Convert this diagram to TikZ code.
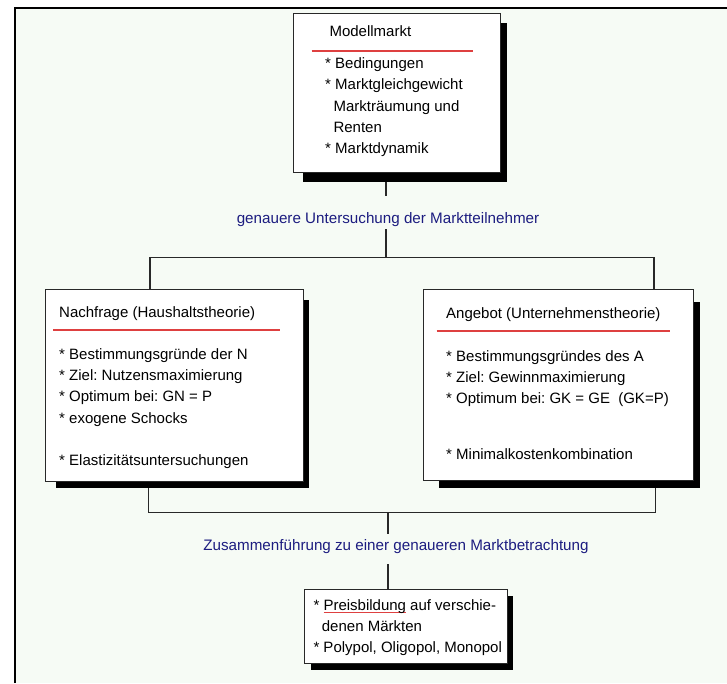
\documentclass[tikz,border=0pt]{standalone}
\usepackage{fontspec}
\setmainfont{Liberation Sans}
\usetikzlibrary{calc}
\frenchspacing
\definecolor{bggreen}{RGB}{246,251,245}
\definecolor{redline}{RGB}{222,64,64}
\definecolor{labblue}{RGB}{28,28,128}
\definecolor{linegray}{RGB}{40,40,40}
\newlength\ulwd
\newcommand\redunder[1]{\settowidth\ulwd{#1}\makebox[0pt][l]{\color{redline}\rule[-3pt]{\ulwd}{1.1pt}}#1}
\begin{document}
\begin{tikzpicture}[x=1pt,y=-1pt,
  box/.style={draw=linegray, line width=1pt, fill=white, inner sep=0pt, outer sep=0pt, anchor=north west},
  txt/.style={inner sep=0pt, font=\fontsize{15}{21.3}\selectfont\frenchspacing, align=left},
  lab/.style={inner sep=0pt, text=labblue, font=\fontsize{15.2}{18}\selectfont, anchor=base},
  conn/.style={draw=linegray, line width=1.3pt},
  shadowfill/.style={fill=black},
  redrule/.style={draw=redline, line width=1.2pt}]
\useasboundingbox (0,0) rectangle (727,683);
% background and frame
\fill[white] (0,0) rectangle (727,683);
\fill[bggreen] (15,7.7) rectangle (727,683);
\draw[line width=2pt] (15,683) -- (15,7.7) -- (727,7.7);

% boxes (nodes)
\node[box, minimum width=206.7pt, minimum height=159pt] (top) at (293.3,13.3) {};
\node[box, minimum width=257.6pt, minimum height=191.7pt] (left) at (45.7,289.3) {};
\node[box, minimum width=270pt, minimum height=190.7pt] (right) at (423.3,289.3) {};
\node[box, minimum width=203.4pt, minimum height=74pt] (bottom) at (304.3,589.3) {};

% labels
\node[lab, text height=27pt, text depth=6pt] (lab1) at (388,223) {genauere Untersuchung der Marktteilnehmer};
\node[lab, text height=16.7pt, text depth=13.3pt] (lab2) at (396,550.7) {Zusammenführung zu einer genaueren Marktbetrachtung};

% junction coordinates
\coordinate (j1) at (386,257.7);
\coordinate (jl) at (150,257.7);
\coordinate (jr) at (654,257.7);
\coordinate (k) at (388,512.3);
\coordinate (kl) at (148.5,512.3);
\coordinate (kr) at (655.3,512.3);

% connectors
\draw[conn] (top.south -| j1) -- (lab1.north -| j1);
\draw[conn] (lab1.south -| j1) -- (j1);
\draw[conn] (left.north -| jl) -- (jl) -- (jr) -- (right.north -| jr);
\draw[conn] (left.south -| kl) -- (kl) -- (kr) -- (right.south -| kr);
\draw[conn] (k) -- (lab2.north -| k);
\draw[conn] (lab2.south -| k) -- (bottom.north -| k);

% shadows
\fill[shadowfill] ($(top.north west)+(10,10)$) rectangle ($(top.south east)+(7,9.4)$);
\fill[shadowfill] ($(left.north west)+(10,11)$) rectangle ($(left.south east)+(6,7)$);
\fill[shadowfill] ($(right.north west)+(16,13)$) rectangle ($(right.south east)+(7,8)$);
\fill[shadowfill] ($(bottom.north west)+(7,7)$) rectangle ($(bottom.south east)+(5,7)$);

% redraw boxes on top of shadows
\draw[draw=linegray, line width=1pt, fill=white] (top.north west) rectangle (top.south east);
\draw[draw=linegray, line width=1pt, fill=white] (left.north west) rectangle (left.south east);
\draw[draw=linegray, line width=1pt, fill=white] (right.north west) rectangle (right.south east);
\draw[draw=linegray, line width=1pt, fill=white] (bottom.north west) rectangle (bottom.south east);

% top box text
\node[txt, anchor=base west] (toptitle) at (329.3,36.7) {Modellmarkt};
\draw[redrule] (311.7,51) -- (473.3,51);
\node[txt, anchor=north west] (topitems) at (325,57.5) {* Bedingungen\\* Marktgleichgewicht\\\hspace*{8.3pt}Markträumung und\\\hspace*{8.3pt}Renten\\* Marktdynamik};

% left box text
\node[txt, anchor=base west] (lefttitle) at (59,317.3) {Nachfrage (Haushaltstheorie)};
\draw[redrule] (53,330) -- (280,330);
\node[txt, anchor=north west] (leftitems) at (59,348.2) {* Bestimmungsgründe der N\\* Ziel: Nutzensmaximierung\\* Optimum bei: GN = P\\* exogene Schocks\\[21.3pt]* Elastizitätsuntersuchungen};

% right box text
\node[txt, anchor=base west] (righttitle) at (446,318.3) {Angebot (Unternehmenstheorie)};
\draw[redrule] (436.7,331) -- (670,331);
\node[txt, anchor=north west] (rightitems) at (446,350.2) {* Bestimmungsgründes des A\\* Ziel: Gewinnmaximierung\\* Optimum bei: GK = GE~~(GK=P)\\[34pt]* Minimalkostenkombination};

% bottom box text
\node[txt, anchor=north west] (bottomitems) at (313.3,599.2) {* \redunder{Preisbildung} auf verschie-\\\hspace*{8.4pt}denen Märkten\\* Polypol, Oligopol, Monopol};
\end{tikzpicture}
\end{document}
